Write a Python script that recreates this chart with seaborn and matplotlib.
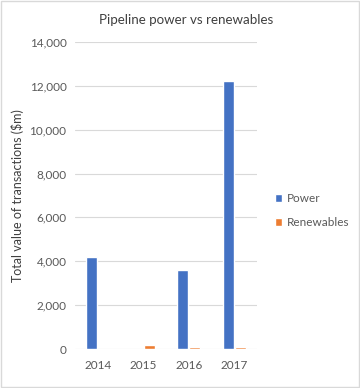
import pandas as pd
import matplotlib.pyplot as plt
import seaborn as sns
from matplotlib.patches import Rectangle

# Chart values
years = ['2014', '2015', '2016', '2017']
power = [4200, 0, 3620, 12220]
renewables = [0, 200, 70, 70]

df = pd.DataFrame({
    'year': years * 2,
    'series': ['Power'] * len(years) + ['Renewables'] * len(years),
    'value': power + renewables,
})

sns.set_theme(style='white')
plt.rcParams['font.family'] = ['Lato', 'DejaVu Sans']

fig = plt.figure(figsize=(3.6, 3.88), dpi=100)
ax = fig.add_axes([0.208, 0.1005, 0.506, 0.7915])

sns.barplot(data=df, x='year', y='value', hue='series',
            palette=['#4472C4', '#ED7D31'], width=0.54, gap=0.1,
            saturation=1, ax=ax)

ax.set_xlim(-0.5, 3.5)
ax.set_ylim(0, 14000)
ax.set_yticks(range(0, 14001, 2000))
ax.set_yticklabels([f'{v:,}' for v in range(0, 14001, 2000)])
ax.yaxis.grid(True, color='#D9D9D9', linewidth=0.8)
ax.set_axisbelow(True)
for s in ['top', 'right', 'left', 'bottom']:
    ax.spines[s].set_visible(False)
ax.tick_params(axis='both', length=0, labelsize=8.5, colors='#595959')
ax.tick_params(axis='x', pad=8)
ax.tick_params(axis='y', pad=6)
ax.set_xlabel('')
ax.set_ylabel('Total value of transactions ($m)', fontsize=9, color='#404040', labelpad=4)

fig.suptitle('Pipeline power vs renewables', x=0.517, y=0.965, fontsize=9.6, color='#404040')

ax.legend(title=None, frameon=False, loc='center left', bbox_to_anchor=(1.04, 0.45),
          fontsize=8.5, handlelength=0.6, handleheight=0.6, handletextpad=0.4,
          labelspacing=1.1, labelcolor='#595959')

fig.patches.append(Rectangle((0.003, 0.003), 0.994, 0.994, transform=fig.transFigure,
                             fill=False, edgecolor='#D9D9D9', linewidth=1))

fig.savefig('out.png', dpi=100)
